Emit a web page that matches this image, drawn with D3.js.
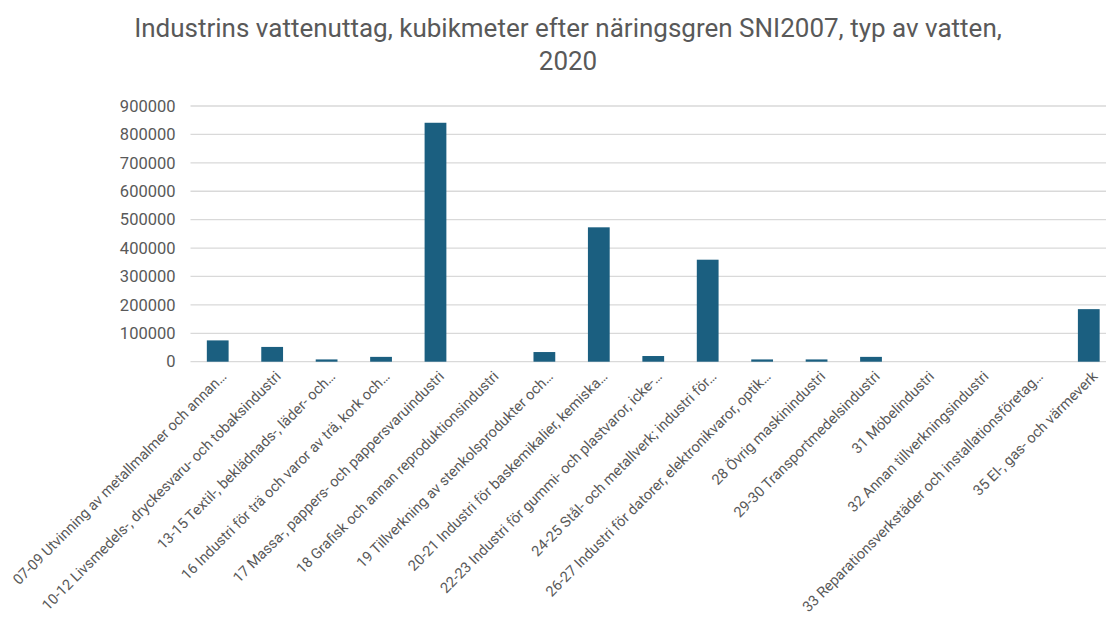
<!DOCTYPE html>
<html>
  <head>
    <script src="https://d3js.org/d3.v7.min.js"></script>
    <title>Industrins vattenuttag</title>
    <style>
      body { margin: 0; background: #fff; }
      text { font-family: Roboto, "Liberation Sans", sans-serif; fill: #595959; }
    </style>
  </head>
  <body>
    <div id="container"></div>
    <script>
    var titleLines = ['Industrins vattenuttag, kubikmeter efter näringsgren SNI2007, typ av vatten,', '2020'];

    var categories = [
      '07-09 Utvinning av metallmalmer och annan…',
      '10-12 Livsmedels-, dryckesvaru- och tobaksindustri',
      '13-15 Textil-, beklädnads-, läder- och…',
      '16 Industri för trä och varor av trä, kork och…',
      '17 Massa-, pappers- och pappersvaruindustri',
      '18 Grafisk och annan reproduktionsindustri',
      '19 Tillverkning av stenkolsprodukter och…',
      '20-21 Industri för baskemikalier, kemiska…',
      '22-23 Industri för gummi- och plastvaror, icke-…',
      '24-25 Stål- och metallverk; industri för…',
      '26-27 Industri för datorer, elektronikvaror, optik…',
      '28 Övrig maskinindustri',
      '29-30 Transportmedelsindustri',
      '31 Möbelindustri',
      '32 Annan tillverkningsindustri',
      '33 Reparationsverkstäder och installationsföretag…',
      '35 El-, gas- och värmeverk'
    ];
    var values = [75000, 52000, 8000, 17000, 841000, 0, 34000, 473000, 20000, 359000, 8000, 8000, 17000, 0, 0, 0, 185000];
    var yTicks = [0, 100000, 200000, 300000, 400000, 500000, 600000, 700000, 800000, 900000];

    var w = 1106, h = 620;
    var mLeft = 190.5, mRight = 1116, mTop = 106, mBottom = 361.7;

    var svg = d3.select('#container').append('svg')
      .attr('width', w).attr('height', h);

    svg.append('g').selectAll('text')
      .data(titleLines)
      .enter().append('text')
      .attr('x', 568)
      .attr('y', (d, i) => 37 + i * 33)
      .attr('text-anchor', 'middle')
      .style('font-size', '26px')
      .text(d => d);

    var x = d3.scaleBand().domain(categories).range([mLeft, mRight]).paddingInner(0.6).paddingOuter(0.3);
    var y = d3.scaleLinear().domain([0, 900000]).range([mBottom, mTop]);

    // grid lines
    svg.append('g').selectAll('line')
      .data(yTicks)
      .enter().append('line')
      .attr('x1', mLeft).attr('x2', mRight)
      .attr('y1', d => y(d)).attr('y2', d => y(d))
      .attr('stroke', '#d9d9d9').attr('stroke-width', 1.3);

    var yAxis = svg.append('g')
      .attr('transform', `translate(${mLeft},0)`)
      .call(d3.axisLeft(y).tickValues(yTicks).tickFormat(d3.format('d')).tickSize(0).tickPadding(15));
    yAxis.select('.domain').remove();
    yAxis.selectAll('text').style('font-size', '16.5px').attr('fill', '#595959');

    svg.append('g').selectAll('rect')
      .data(values)
      .enter().append('rect')
      .attr('x', (d, i) => x(categories[i]))
      .attr('y', d => y(d))
      .attr('width', x.bandwidth())
      .attr('height', d => mBottom - y(d))
      .attr('fill', '#1b5f80');

    var xAxis = svg.append('g')
      .attr('transform', `translate(0,${mBottom})`)
      .call(d3.axisBottom(x).tickSize(0).tickPadding(0));
    xAxis.select('.domain').remove();
    xAxis.selectAll('text')
      .style('font-size', '14.6px')
      .attr('fill', '#595959')
      .attr('text-anchor', 'end')
      .attr('dy', '0.35em')
      .attr('transform', 'translate(6,12) rotate(-45)');
    </script>
  </body>
</html>
